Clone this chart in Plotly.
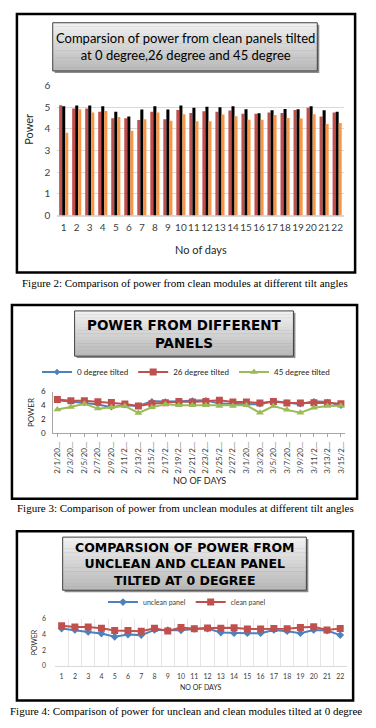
import plotly.graph_objects as go

W, H = 376, 728

# ---------------- data ----------------
days = [str(i) for i in range(1, 23)]
clean_0 = [5.10, 4.95, 4.95, 4.80, 4.50, 4.50, 4.41, 4.79, 4.45, 4.88, 4.74,
           4.82, 4.79, 4.85, 4.70, 4.70, 4.76, 4.74, 4.88, 4.98, 4.58, 4.76]
clean_26 = [5.05, 5.08, 5.08, 5.05, 4.79, 4.58, 4.90, 5.05, 4.90, 5.08, 4.98,
            5.03, 5.00, 5.05, 4.91, 4.73, 4.86, 4.92, 4.91, 5.05, 4.86, 4.80]
clean_45 = [3.83, 4.91, 4.76, 4.83, 4.55, 3.92, 4.45, 4.76, 4.38, 4.68, 4.36,
            4.36, 4.67, 4.59, 4.42, 4.42, 4.64, 4.51, 4.48, 4.68, 4.23, 4.27]

dates = ["2/1/20…", "2/3/20…", "2/5/20…", "2/7/20…", "2/9/20…", "2/11/2…",
         "2/13/2…", "2/15/2…", "2/17/2…", "2/19/2…", "2/21/2…", "2/23/2…",
         "2/25/2…", "2/27/2…", "3/1/20…", "3/3/20…", "3/5/20…", "3/7/20…",
         "3/9/20…", "3/11/2…", "3/13/2…", "3/15/2…"]
unclean_0 = [4.75, 4.58, 4.33, 4.12, 3.71, 4.00, 3.92, 4.58, 4.54, 4.54, 4.71,
             4.75, 4.25, 4.17, 4.17, 4.17, 4.58, 4.42, 4.17, 4.58, 4.50, 3.92]
unclean_26 = [4.84, 4.65, 4.67, 4.52, 4.40, 4.19, 3.90, 4.24, 4.38, 4.57, 4.48,
              4.57, 4.72, 4.48, 4.48, 4.33, 4.57, 4.33, 4.33, 4.38, 4.38, 4.24]
unclean_45 = [3.40, 3.76, 4.24, 3.52, 3.71, 3.90, 2.90, 3.71, 4.14, 4.00, 4.00,
              4.00, 3.90, 3.90, 4.00, 2.92, 3.90, 3.34, 2.92, 3.65, 3.90, 3.95]

# ---------------- helpers ----------------
def px(x):
    return x / W

def py(y):
    return 1 - y / H

BLUE, RED, GREEN, ORANGE = "#4F81BD", "#C0504D", "#9BBB59", "#F79646"
SANS = "Lato"
SERIF = "Liberation Serif"

fig = go.Figure()

# chart 1 : grouped bars
for name, vals, col in [("0 degree", clean_0, RED), ("26 degree", clean_26, "#000000"),
                        ("45 degree", clean_45, ORANGE)]:
    fig.add_trace(go.Bar(x=days, y=vals, name=name, marker_color=col,
                         marker_line_width=0, showlegend=False,
                         xaxis="x", yaxis="y"))

# chart 2 : unclean lines
fig.add_trace(go.Scatter(x=dates, y=unclean_0, name="0 degree tilted", mode="lines+markers",
                         line=dict(color=BLUE, width=2), marker=dict(symbol="diamond", size=5, color=BLUE),
                         xaxis="x2", yaxis="y2", legend="legend"))
fig.add_trace(go.Scatter(x=dates, y=unclean_26, name="26 degree tilted", mode="lines+markers",
                         line=dict(color=RED, width=2), marker=dict(symbol="square", size=7, color=RED),
                         xaxis="x2", yaxis="y2", legend="legend"))
fig.add_trace(go.Scatter(x=dates, y=unclean_45, name="45 degree tilted", mode="lines+markers",
                         line=dict(color=GREEN, width=2), marker=dict(symbol="triangle-up", size=7, color=GREEN),
                         xaxis="x2", yaxis="y2", legend="legend"))

# chart 3 : unclean vs clean at 0 degree
fig.add_trace(go.Scatter(x=days, y=unclean_0, name="unclean panel", mode="lines+markers",
                         line=dict(color=BLUE, width=2), marker=dict(symbol="diamond", size=6, color=BLUE),
                         xaxis="x3", yaxis="y3", legend="legend2"))
fig.add_trace(go.Scatter(x=days, y=clean_0, name="clean panel", mode="lines+markers",
                         line=dict(color=RED, width=2), marker=dict(symbol="square", size=7, color=RED),
                         xaxis="x3", yaxis="y3", legend="legend2"))

grid = "#D9D9D9"
tick_font1 = dict(family=SANS, size=10, color="#404040")

layout = dict(
    width=W, height=H, autosize=False,
    margin=dict(l=0, r=0, t=0, b=0),
    paper_bgcolor="white", plot_bgcolor="white",
    bargap=0.3, bargroupgap=0,
    # chart 1
    xaxis=dict(domain=[px(56.5), px(344.5)], anchor="y", type="category",
               range=[-0.5, 21.5], showgrid=False, showline=False, ticks="",
               tickangle=0, tickfont=tick_font1, ticklabelstandoff=4),
    yaxis=dict(domain=[py(212), py(80)], anchor="x", range=[0, 6], dtick=1,
               showgrid=True, gridcolor=grid, gridwidth=1, zeroline=True,
               zerolinecolor=grid, showline=False, ticks="",
               tickfont=tick_font1, ticklabelstandoff=6),
    # chart 2
    xaxis2=dict(domain=[px(52.6), px(345.8)], anchor="y2", type="category",
                range=[-0.3, 21.3], showgrid=False, showline=True, linecolor="#A6A6A6",
                ticks="outside", ticklen=3, tickcolor="#A6A6A6", tickangle=-90,
                tickfont=dict(family=SANS, size=8, color="#404040"), ticklabelstandoff=2),
    yaxis2=dict(domain=[py(433), py(391)], anchor="x2", range=[0, 6], dtick=2,
                showgrid=False, zeroline=False, showline=True, linecolor="#A6A6A6",
                ticks="", tickfont=dict(family=SANS, size=8, color="#262626"),
                ticklabelstandoff=5),
    # chart 3
    xaxis3=dict(domain=[px(54.3), px(347.7)], anchor="y3", type="category",
                range=[-0.5, 21.5], showgrid=True, gridcolor="#E6E6E6", tickson="boundaries",
                showline=True, linecolor="#D9D9D9", ticks="", tickangle=0,
                tickfont=dict(family=SANS, size=7, color="#404040"), ticklabelstandoff=4),
    yaxis3=dict(domain=[py(670), py(622)], anchor="x3", range=[0, 6], dtick=2,
                showgrid=False, zeroline=False, showline=False, ticks="",
                tickfont=dict(family=SANS, size=7, color="#404040"), ticklabelstandoff=8),
    legend=dict(orientation="h", x=px(186), xanchor="center", y=py(371), yanchor="middle",
                font=dict(family=SANS, size=8, color="#262626"), bgcolor="rgba(0,0,0,0)",
                itemwidth=30, tracegroupgap=0),
    legend2=dict(orientation="h", x=px(187), xanchor="center", y=py(605), yanchor="middle",
                 font=dict(family=SANS, size=7, color="#404040"), bgcolor="rgba(0,0,0,0)",
                 itemwidth=30),
)
fig.update_layout(**layout)

shapes = []
annotations = []

def title_box(x0, y0, x1, y1, n=14):
    # drop shadow
    shapes.append(dict(type="rect", xref="paper", yref="paper", x0=px(x0 + 2), x1=px(x1 + 2),
                       y0=py(y1 + 2), y1=py(y0 + 2), fillcolor="#8C8C8C", line=dict(width=0),
                       layer="above"))
    top, bot = (240, 240, 240), (185, 185, 185)
    h = (y1 - y0) / n
    for i in range(n):
        t = i / (n - 1)
        c = tuple(int(top[k] + (bot[k] - top[k]) * t) for k in range(3))
        shapes.append(dict(type="rect", xref="paper", yref="paper", x0=px(x0), x1=px(x1),
                           y0=py(y0 + (i + 1) * h + 0.3), y1=py(y0 + i * h),
                           fillcolor="rgb(%d,%d,%d)" % c, line=dict(width=0), layer="above"))
    shapes.append(dict(type="rect", xref="paper", yref="paper", x0=px(x0), x1=px(x1),
                       y0=py(y1), y1=py(y0), fillcolor="rgba(0,0,0,0)",
                       line=dict(color="#404040", width=1), layer="above"))

def border(x0, y0, x1, y1):
    shapes.append(dict(type="rect", xref="paper", yref="paper", x0=px(x0), x1=px(x1),
                       y0=py(y1), y1=py(y0), fillcolor="rgba(0,0,0,0)",
                       line=dict(color="#000000", width=2.5), layer="above"))

def text(x, y, s, size, family=SANS, color="#262626", angle=0):
    annotations.append(dict(xref="paper", yref="paper", x=px(x), y=py(y), text=s,
                            showarrow=False, xanchor="center", yanchor="middle",
                            textangle=angle, font=dict(family=family, size=size, color=color)))

# chart 1 frame
border(16, 7, 356, 270)
title_box(52, 16, 318, 65)
text(185, 40.5, "Comparsion of power from clean panels tilted<br>at 0 degree,26 degree and 45 degree", 13,
     color="#000000")
text(28, 124, "Power", 11, angle=-90)
text(201, 247, "No of days", 11)
text(185, 281, "Figure 2: Comparison of power from clean modules at different tilt angles", 11,
     family=SERIF, color="#000000")

# chart 2 frame
border(11, 303, 358, 500)
title_box(74, 309, 294, 355)
text(184, 332, "<b>POWER FROM DIFFERENT<br>PANELS</b>", 13.5, family="DejaVu Sans", color="#000000")
text(30, 412, "POWER", 8, angle=-90)
text(200, 481, "NO OF DAYS", 9)
text(185, 509, "Figure 3: Comparison of power from unclean modules at different tilt angles", 11,
     family=SERIF, color="#000000")

# chart 3 frame
border(16, 533, 354, 705)
title_box(62, 539, 307, 593)
text(184.5, 566, "<b>COMPARSION OF POWER FROM<br>UNCLEAN AND CLEAN PANEL<br>TILTED AT 0 DEGREE</b>",
     12.5, family="DejaVu Sans", color="#000000")
text(34, 646, "POWER", 7, angle=-90)
text(201, 691, "NO OF DAYS", 7)
text(186, 716, "Figure 4: Comparison of power for unclean and clean modules tilted at 0 degree", 11,
     family=SERIF, color="#000000")

fig.update_layout(shapes=shapes, annotations=annotations)

fig.write_html("out.html", config={"displayModeBar": False},
               post_script="document.body.style.margin='0';")
